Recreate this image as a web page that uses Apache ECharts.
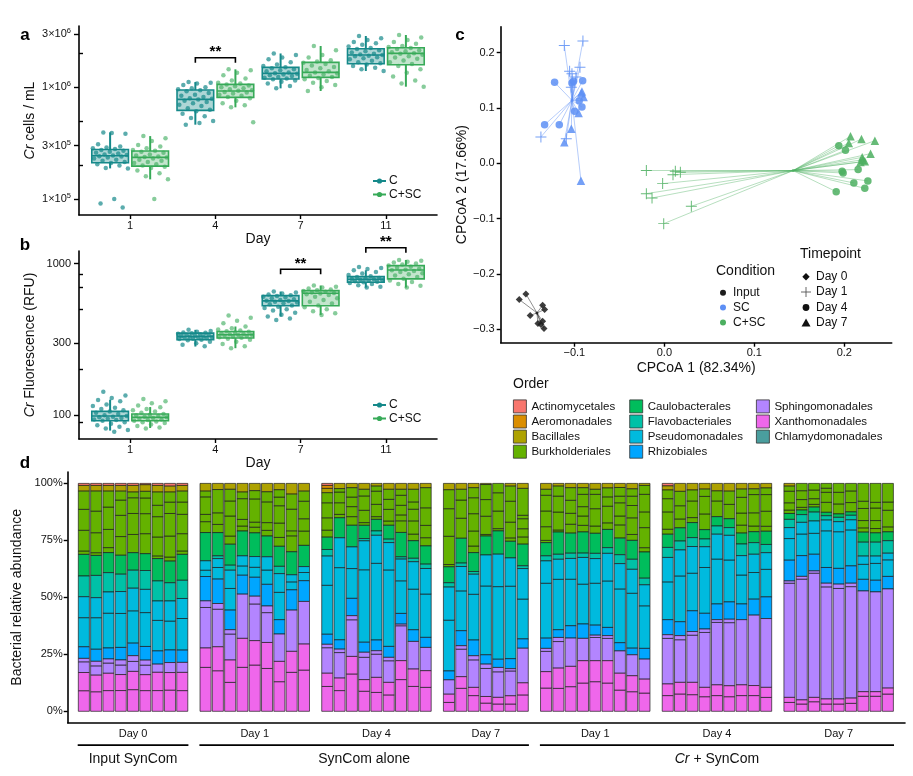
<!DOCTYPE html>
<html><head><meta charset="utf-8"><title>chart</title>
<script src="https://cdn.jsdelivr.net/npm/echarts@6.0.0/dist/echarts.min.js"></script>
<style>html,body{margin:0;padding:0;background:#fff;}#chart{width:913px;height:776px;}</style>
</head><body><div id="chart"></div>
<script>
// ================= DATA =================
const dayLabels = ['1', '4', '7', '11'];

// Panel a: Cr cells / mL, in units of 1e5, per day (1,4,7,11)
const cellsC_e5 = [
  [3.95,3.85,3.9,3.1,2.95,2.9,2.85,2.8,2.75,2.7,2.65,2.6,2.55,2.5,2.48,2.45,2.42,2.4,2.35,2.3,2.25,2.2,2.15,2.1,2.05,2.0,1.9,1.88,1.0,0.91,0.84],
  [11.15,11.0,10.8,10.5,10.0,9.8,9.6,9.4,9.2,8.9,8.6,8.4,8.2,8.0,7.9,7.8,7.6,7.4,7.2,7.0,6.8,6.5,6.3,6.1,5.8,5.5,5.3,5.0,4.8,4.63],
  [20.1,19.5,18.5,17.8,16.8,16.0,15.5,15.1,14.8,14.5,14.2,13.9,13.6,13.4,13.2,13.0,12.8,12.6,12.4,12.2,12.0,11.8,11.5,11.2,10.8,10.3,9.79],
  [28.8,27.5,26.5,25.5,24.8,24.0,23.2,22.5,22.0,21.5,21.0,20.5,20.0,19.7,19.5,19.2,19.0,18.6,18.2,17.8,17.3,16.8,16.4,16.0,15.5,15.0,14.5,14.0]
];
const cellsSC_e5 = [
  [3.66,3.5,3.3,3.05,2.95,2.85,2.75,2.7,2.65,2.6,2.5,2.45,2.4,2.38,2.35,2.3,2.25,2.2,2.15,2.1,2.05,2.0,1.95,1.9,1.8,1.7,1.6,1.5,1.0],
  [14.49,14.2,13.5,12.8,12.0,11.5,11.0,10.8,10.6,10.4,10.2,10.0,9.8,9.6,9.4,9.3,9.1,9.0,8.8,8.6,8.4,8.2,8.0,7.6,7.2,6.9,6.62,4.86],
  [23.43,21.5,19.5,18.5,17.5,17.0,16.6,16.2,15.7,15.2,14.8,14.3,13.9,13.6,13.3,13.0,12.7,12.4,12.1,11.8,11.4,11.0,10.5,10.0,9.27],
  [29.4,28.0,26.5,25.5,24.5,23.5,23.0,22.5,22.0,21.5,21.0,20.6,20.2,20.0,19.6,19.0,18.5,18.0,17.4,16.8,16.2,15.5,14.5,13.5,12.5,11.5,10.8,10.13]
];
// box stats [lower whisker, Q1, median, Q3, upper whisker]
const cellsStatsC = [[1.88e5,2.11e5,2.44e5,2.78e5,3.95e5],[4.63e5,6.22e5,7.8e5,9.46e5,1.115e6],[9.79e5,1.187e6,1.334e6,1.51e6,2.01e6],[1.4e6,1.627e6,1.946e6,2.218e6,2.88e6]];
const cellsStatsSC = [[1.5e5,1.97e5,2.36e5,2.69e5,3.66e5],[6.62e5,8.13e5,9.27e5,1.063e6,1.449e6],[9.27e5,1.228e6,1.362e6,1.673e6,2.343e6],[1.013e6,1.594e6,2.015e6,2.263e6,2.94e6]];
const cellsTicks = [1e5, 3e5, 1e6, 3e6];
const cellsMinorTicks = [2e5, 5e5, 2e6];
const cellsSig = [[2, 1.84e6]]; // [day position, bracket height]

// Panel b: Cr fluorescence (RFU)
const rfuC = [
  [143,135,130,126,124,118,115,112,110,108,106,104,102,100,99,98,97,96,95,94,93,92,90,88,86,84,82,80,78],
  [366,360,355,352,350,348,345,342,340,338,335,333,331,330,328,326,324,322,320,318,315,312,305,298,292,285],
  [654,645,635,625,618,612,605,598,590,582,575,570,566,560,555,548,540,530,520,510,500,490,475,460,448,435,425],
  [950,935,920,904,880,860,840,825,815,805,798,792,788,784,778,772,766,760,754,745,735,720,705,695]
];
const rfuSC = [
  [128,124,120,116,113,110,108,106,104,102,101,100,99,98,97,96,95,94,93,92,91,90,89,87,85,83,82],
  [455,440,420,405,385,375,368,362,358,355,352,348,345,342,340,338,335,333,330,327,324,320,315,305,295,285,277],
  [717,705,695,685,675,668,660,652,645,640,635,628,620,605,590,575,560,545,530,515,500,485,470,459],
  [1057,1045,1030,1015,1000,985,970,955,940,925,912,905,895,880,865,850,835,815,795,775,755,735,715,695]
];
const rfuStatsC = [[79.3,92.2,99,106.2,126.8],[284,315,331,348,366],[448,527,568,615,654],[695,754,789,821,904]];
const rfuStatsSC = [[82.5,92.2,97,102,113.4],[277,323,340,357,385],[459,527,638,664,717],[695,793,908,970,1057]];
const rfuTicks = [100, 300, 1000];
const rfuMinorTicks = [90, 200, 500, 700, 850];
const rfuSig = [[3, 918], [4, 1273]];

// Panel c: CPCoA coordinates
const pcoaInput_d0 = [[-0.1613,-0.2462],[-0.1539,-0.236],[-0.1491,-0.2751],[-0.1353,-0.2565],[-0.1331,-0.2643],[-0.1405,-0.2896],[-0.1353,-0.2854],[-0.1338,-0.2986],[-0.1372,-0.2914]];
const pcoaSC_d1 = [[-0.1112,0.2131],[-0.0905,0.221],[-0.1053,0.1662],[-0.1027,0.162],[-0.0938,0.1734],[-0.0983,0.1559],[-0.1034,0.1373],[-0.1372,0.0476],[-0.109,0.0446]];
const pcoaSC_d4 = [[-0.122,0.1463],[-0.1009,0.1481],[-0.0908,0.1493],[-0.1331,0.0698],[-0.1168,0.0698],[-0.0946,0.1132],[-0.0916,0.1017],[-0.0997,0.0939],[-0.1027,0.1451]];
const pcoaSC_d7 = [[-0.0916,0.13],[-0.0897,0.1198],[-0.0923,0.127],[-0.0953,0.0909],[-0.1034,0.0626],[-0.1112,0.0379],[-0.0927,-0.0313]];
const pcoaCSC_d1 = [[-0.02,-0.0132],[0.0122,-0.0144],[0.0178,-0.0163],[0.0096,-0.0205],[-0.0019,-0.0367],[-0.02,-0.0548],[-0.0137,-0.0626],[0.03,-0.0777],[-0.0007,-0.109]];
const pcoaCSC_d4 = [[0.1939,0.0319],[0.2013,0.0235],[0.1987,-0.0175],[0.1976,-0.0144],[0.2154,-0.0114],[0.2106,-0.0355],[0.2262,-0.0319],[0.2228,-0.0452],[0.191,-0.0512]];
const pcoaCSC_d7 = [[0.2069,0.0488],[0.2191,0.0439],[0.234,0.0409],[0.205,0.0367],[0.2292,0.0175],[0.2199,0.0108],[0.2228,0.0036],[0.218,0.0024],[0.2206,0.0066]];
const centroidInput = [-0.1416, -0.2703];
const centroidSC = [-0.1027, 0.1138];
const centroidCSC = [0.1431, -0.0132];
const pcoaXTicks = [-0.1, 0, 0.1, 0.2];
const pcoaYTicks = [-0.3, -0.2, -0.1, 0, 0.1, 0.2];

// Panel d: relative abundance, each bar = list of [order, % segment] from bottom to top
const orderNames = ['Actinomycetales','Aeromonadales','Bacillales','Burkholderiales','Caulobacterales','Flavobacteriales','Pseudomonadales','Rhizobiales','Sphingomonadales','Xanthomonadales','Chlamydomonadales'];
const Ac=0, Ae=1, Ba=2, B=3, Ca=4, F=5, P=6, R=7, S=8, X=9;
const input_d0 = [
  [[X,9.05],[X,8],[S,4.7],[S,1.5],[R,5.1],[P,12.8],[P,9.2],[F,9.1],[Ca,9.5],[B,1.5],[B,9.1],[B,9.2],[B,8],[Ba,2.5],[Ac,0.9]],
  [[X,8.6],[X,7.3],[S,4.1],[S,2],[R,5.3],[P,13.9],[P,8.8],[F,9.8],[Ca,8.8],[B,1.2],[B,8.8],[B,9.5],[B,8.8],[Ba,2.5],[Ac,0.9]],
  [[X,9.1],[X,7.6],[S,4.5],[S,1.8],[R,4.8],[P,15.3],[P,9.3],[F,8.5],[Ca,8.8],[B,2.2],[B,8],[B,9.8],[B,7],[Ba,2.5],[Ac,0.9]],
  [[X,9.1],[X,7],[S,4.2],[S,2.2],[R,5.5],[P,14.9],[P,9.6],[F,7.6],[Ca,8.3],[B,8.2],[B,9.3],[B,6.7],[B,3.9],[Ba,2.5],[Ac,0.9]],
  [[X,9.5],[X,8],[S,4.4],[S,2.5],[R,5.5],[P,14.2],[P,9.9],[F,7.9],[Ca,7.7],[B,8],[B,9.2],[B,6.9],[B,2.5],[Ba,2.9],[Ac,0.9]],
  [[X,9.1],[X,7],[S,4.2],[S,2.2],[R,6],[P,14.9],[P,10.2],[F,8.3],[Ca,7.4],[B,8.8],[B,8.8],[B,6.9],[B,2.9],[Ba,2.9],[Ac,0.6]],
  [[X,9.1],[X,8],[S,3.6],[R,5.8],[P,13.4],[P,8.5],[F,8.8],[Ca,9.8],[B,1.2],[B,8.3],[B,8.9],[B,5],[B,5.8],[Ba,2.9],[Ac,0.9]],
  [[X,9.3],[X,7.7],[S,4.4],[R,5.5],[P,12.7],[P,8.8],[F,8],[Ca,9.5],[B,1.8],[B,9.2],[B,9.9],[B,5],[B,4.4],[Ba,2.6],[Ac,1.2]],
  [[X,9.1],[X,8],[S,4.4],[R,5.4],[P,13.9],[P,8.8],[F,8],[Ca,11.4],[B,1.5],[B,7.6],[B,8.5],[B,5.4],[B,4.8],[Ba,2.5],[Ac,0.9]]
];
const alone_d1 = [
  [[X,19.3],[X,8.5],[S,17.8],[S,2.9],[R,10.7],[P,2.8],[P,4.1],[Ca,12.4],[B,4.8],[B,3.2],[B,7.7],[B,2.5],[Ba,3.4]],
  [[X,17.8],[X,10.5],[S,16.5],[S,2.5],[R,10.7],[P,5.1],[P,3.9],[F,1.2],[Ca,10.2],[B,3.6],[B,5.1],[B,10.2],[Ba,2.7]],
  [[X,12.7],[X,9.8],[S,11.4],[S,1.9],[R,8.6],[P,9.5],[P,8],[F,2.2],[Ca,9.2],[B,3.6],[B,8.8],[B,6.6],[B,5.1],[Ba,2.6]],
  [[X,19.3],[X,12.7],[S,19.4],[R,8.3],[P,4.1],[P,4.4],[Ca,10.9],[B,2.2],[B,2.9],[B,9.1],[B,2.9],[Ba,3.8]],
  [[X,20.3],[X,10.7],[S,16.1],[S,3.4],[R,8.3],[P,4.4],[P,4.7],[Ca,10.4],[B,2.5],[B,2.2],[B,10.2],[B,3.6],[Ba,3.2]],
  [[X,18.8],[X,11.4],[S,13.1],[S,2.9],[R,9.5],[P,6.3],[P,5.8],[Ca,9.1],[B,2.5],[B,3.4],[B,9.1],[B,4.4],[Ba,3.7]],
  [[X,13],[X,8.9],[S,12],[R,6.3],[P,12],[P,8.2],[F,3.2],[Ca,8.8],[B,3.9],[B,6.3],[B,7.6],[B,3.8],[B,3.2],[Ba,2.8]],
  [[X,17.1],[X,9.2],[S,18.1],[R,8.9],[P,3.5],[P,3.1],[Ca,10.1],[B,7],[B,2.2],[B,9.5],[B,6.6],[Ba,4.7]],
  [[X,18.1],[X,11.4],[S,18.7],[R,9.1],[P,3.6],[P,2.6],[Ca,9.3],[B,6.3],[B,5.4],[B,7.7],[B,4.4],[Ba,3.4]]
];
const alone_d4 = [
  [[X,10.9],[X,5.8],[S,11.2],[S,1.5],[R,4.4],[P,21.5],[P,12.8],[F,2.9],[Ca,5.4],[B,3.1],[B,5.4],[B,6.6],[B,4.4],[Ba,1.9],[Ae,1.3],[Ac,0.9]],
  [[X,9.1],[X,5.5],[S,11.2],[S,1.5],[R,4.1],[P,31.7],[P,13.1],[Ca,8.8],[B,1.5],[B,5.1],[B,4.7],[B,1.5],[Ba,2.3]],
  [[X,16.4],[X,7.7],[S,16.1],[S,1.8],[R,7.6],[P,13.1],[P,9.5],[Ca,9.5],[B,3.8],[B,4.4],[B,4.2],[B,4.1],[Ba,1.9]],
  [[X,8.8],[X,5.1],[S,9.8],[S,2.2],[R,4.4],[P,31.8],[P,12.7],[F,1],[Ca,5.8],[B,1.2],[B,5.4],[B,6.3],[B,2.9],[Ba,2.6]],
  [[X,8.3],[X,6.6],[S,10.2],[S,1.5],[R,4.7],[P,33.7],[P,12.3],[F,1.9],[Ca,5.1],[B,1.2],[B,5.4],[B,5.8],[B,2.2],[Ba,1.2]],
  [[X,7.2],[X,5.5],[S,9.5],[S,1.5],[R,4.8],[P,33.6],[P,12],[F,1.5],[Ca,6.1],[B,1.9],[B,5.1],[B,4.4],[B,4.4],[Ba,2.6]],
  [[X,13.9],[X,8.3],[S,15.3],[S,0.7],[R,4.7],[P,14.3],[P,9.5],[F,1],[Ca,10.7],[B,5.1],[B,2.6],[B,4.2],[B,4.4],[B,2.6],[Ba,2.6]],
  [[X,10.9],[X,7.6],[S,12.1],[R,5.1],[P,17.8],[P,12],[F,1.5],[Ca,7.7],[B,2.9],[B,5.8],[B,5.1],[B,3.2],[B,5.5],[Ba,2.6]],
  [[X,10.5],[X,7.3],[S,10.2],[R,4.4],[P,19],[P,11.2],[F,1.9],[Ca,8],[B,3.6],[B,5.4],[B,7.7],[B,8.8],[Ba,1.9]]
];
const alone_d7 = [
  [[X,3.9],[X,3.6],[S,6.3],[R,3.9],[P,22.3],[P,14.5],[F,1.9],[Ca,7],[B,1],[B,12.4],[B,12.1],[B,8.3],[Ba,2.8]],
  [[X,10.1],[X,5.1],[S,12.1],[S,1.5],[R,6.6],[P,17.5],[P,10.7],[F,1.5],[Ca,10.9],[B,8.8],[B,8],[B,4.7],[Ba,2.6]],
  [[X,6.9],[X,3.6],[S,12.1],[S,1.8],[R,6.9],[P,20.1],[P,8.8],[F,1.2],[Ca,8.3],[B,2.9],[B,6.6],[B,7.6],[B,7],[B,4.4],[Ba,1.9]],
  [[X,3.6],[X,2.9],[S,12.3],[S,1.9],[R,4.1],[P,30.2],[P,13.6],[Ca,8.3],[B,0.7],[B,8],[B,7.3],[B,6.6],[Ba,0.5]],
  [[X,3.2],[X,2.9],[S,11.2],[S,1.9],[R,3.6],[P,31.8],[P,14.2],[Ca,10.2],[B,1],[B,7.7],[B,8],[B,4.1]],
  [[X,3.2],[X,3.6],[S,10.9],[S,1],[R,4.4],[P,31.8],[P,12.4],[Ca,7.3],[B,1.5],[B,6.9],[B,9.2],[B,6.6],[Ba,1.2]],
  [[X,7.2],[X,5.3],[S,15.2],[R,4.1],[P,17.5],[P,13.4],[F,1.2],[Ca,9.5],[B,3.2],[B,3.6],[B,4.4],[B,1.5],[B,11.8],[Ba,2.2]]
];
const cr_d1 = [
  [[X,10.2],[X,7.2],[S,8.9],[S,1.3],[R,4.5],[P,24.1],[P,9.8],[F,2.2],[Ca,5.8],[B,1],[B,6],[B,6.9],[B,6.9],[B,2.6],[Ba,2.6]],
  [[X,10.1],[X,8.9],[S,11.7],[S,1.8],[R,3.4],[P,22.2],[P,8.8],[F,2.2],[Ca,9.8],[B,0.9],[B,7.9],[B,7],[B,4.4],[Ba,1.2]],
  [[X,10.8],[X,8.9],[S,12.4],[R,5.4],[P,20.4],[P,9.1],[F,2.3],[Ca,8.8],[B,3.9],[B,4.8],[B,5.7],[B,5.5],[Ba,1.9]],
  [[X,12.4],[X,9.8],[S,9.8],[R,6.3],[P,17.5],[P,11.7],[F,1.9],[Ca,9.3],[B,2.9],[B,4.1],[B,4.1],[B,5.4],[B,2.9],[Ba,1.9]],
  [[X,13],[X,9.2],[S,10.2],[S,1],[R,4.4],[P,18.4],[P,10.8],[F,2.3],[Ca,8.8],[B,3.2],[B,7.6],[B,6.3],[B,2.2],[Ba,2.6]],
  [[X,12.4],[X,9.8],[S,9.8],[S,1.2],[R,3.6],[P,20.4],[P,12.1],[F,2.5],[Ca,8],[B,2.9],[B,7.3],[B,4.1],[B,3.9],[Ba,2]],
  [[X,9.3],[X,7.4],[S,9.8],[R,3.6],[P,23.6],[P,11.1],[F,3.9],[Ca,7.3],[B,5.8],[B,3.9],[B,5.8],[B,2.9],[B,3.8],[Ba,1.8]],
  [[X,8.6],[X,7],[S,9.2],[R,2.9],[P,24.1],[P,10.5],[F,4.4],[Ca,8.3],[B,2.6],[B,7.3],[B,5.4],[B,4.1],[B,3.2],[Ba,2.4]],
  [[X,8],[X,6.1],[S,8.8],[R,4.7],[P,18.7],[P,9.2],[F,2.9],[Ca,11.5],[B,1.9],[B,8.8],[B,6.9],[B,7.7],[B,3.9],[Ba,0.9]]
];
const cr_d4 = [
  [[X,6.9],[X,5.1],[S,20],[S,1.6],[R,6.6],[P,16.6],[P,10.7],[F,4.4],[Ca,5.8],[B,2.2],[B,7.6],[B,5.8],[B,3.8],[Ba,1.8],[Ac,1.1]],
  [[X,7.6],[X,5.1],[S,18.7],[S,1.8],[R,6.1],[P,20.1],[P,11.4],[F,3.9],[Ca,5.8],[B,3.9],[B,5.8],[B,6.3],[Ba,3.5]],
  [[X,7.3],[X,5.4],[S,20.7],[S,1.6],[R,9.1],[P,16.5],[P,11.7],[F,3.9],[Ca,6.6],[B,2.2],[B,7.3],[B,4.8],[Ba,2.9]],
  [[X,6.4],[X,4.1],[S,24.1],[S,1.5],[R,6.9],[P,20.1],[P,9.1],[F,3.4],[Ca,4.1],[B,6.9],[B,7.7],[B,3.2],[Ba,2.5]],
  [[X,6.9],[X,4.7],[S,27.4],[S,1.2],[R,6.9],[P,19.7],[P,10.9],[F,3.6],[Ca,4.1],[B,6.9],[B,4.4],[Ba,3.3]],
  [[X,6.4],[X,4.8],[S,27.7],[S,1.5],[R,7.6],[P,18.4],[P,10.8],[F,3.4],[Ca,3.9],[B,6.3],[B,5.8],[Ba,3.4]],
  [[X,6.9],[X,4.7],[S,28.6],[R,6.9],[P,12.7],[P,8.5],[F,5.1],[Ca,4.8],[B,3.5],[B,5.3],[B,6.9],[B,3.6],[Ba,2.5]],
  [[X,6.9],[X,4.4],[S,30.9],[R,7],[P,11.7],[P,8],[F,5.1],[Ca,4.8],[B,2.5],[B,5.8],[B,8],[B,2.5],[Ba,2.4]],
  [[X,6.1],[X,4.4],[S,30.2],[R,9.5],[P,12.1],[P,7.3],[F,3.6],[Ca,5.8],[B,2.2],[B,6.6],[B,7.3],[B,2.9],[Ba,2]]
];
const cr_d7 = [
  [[X,3.9],[X,2.2],[S,50.1],[S,1],[R,9.1],[P,9.5],[P,4.8],[F,3.6],[Ca,2.6],[B,1.5],[B,3.2],[B,5.1],[B,2.2],[Ba,1.2]],
  [[X,3.2],[X,1.8],[S,53],[S,1.2],[R,9.1],[P,9.5],[P,5.1],[F,3.4],[Ca,2],[B,1.2],[B,3.4],[B,3.9],[B,3.2]],
  [[X,4.2],[X,1.9],[S,54.5],[S,1],[R,7.3],[P,9.2],[P,5.4],[F,3.9],[Ca,2.2],[B,1.2],[B,2.5],[B,3.8],[B,2.9]],
  [[X,3.2],[X,2.2],[S,49.2],[S,1.6],[R,6.9],[P,16.1],[P,4.7],[F,1.9],[Ca,1.5],[B,4.4],[B,4.4],[B,1.8],[B,2.1]],
  [[X,3.2],[X,2.2],[S,48.5],[S,1.9],[R,6.9],[P,16.1],[P,4.4],[F,1.9],[Ca,1.5],[B,4.4],[B,5.1],[B,3.9]],
  [[X,3.5],[X,2.3],[S,48.9],[S,1.5],[R,7.6],[P,15.8],[P,4.4],[F,2],[Ca,1.5],[B,4.1],[B,5.1],[B,3.3]],
  [[X,6.6],[X,2],[S,44.2],[R,5.1],[P,6.6],[P,3.6],[F,6.1],[Ca,4.4],[B,1.9],[B,3.2],[B,5.3],[B,3.2],[B,7.8]],
  [[X,6.6],[X,2],[S,43.8],[R,5.1],[P,7.4],[P,3.2],[F,6.1],[Ca,4.1],[B,1.9],[B,3.5],[B,5.5],[B,2.5],[B,8.3]],
  [[X,7.6],[X,2.6],[S,43.6],[R,5.5],[P,7.3],[P,2.9],[F,5.5],[Ca,3.9],[B,2.2],[B,7.3],[B,3.6],[B,8.2]]
];
const stripLabels = ['Day 0','Day 1','Day 4','Day 7','Day 1','Day 4','Day 7'];
const conditionLabels = ['Input SynCom', 'SynCom alone', '{i|Cr} + SynCom'];
const conditionGroups = [[0, 0], [1, 3], [4, 6]];
const pctTicks = [0, 25, 50, 75, 100];

// ================= STYLE / LAYOUT =================
const FONT = "'Liberation Sans', Arial, Helvetica, sans-serif";
const colC = '#15898a', colSC = '#37aa58';
const fillC = 'rgba(21,137,138,0.35)', fillSC = 'rgba(55,170,88,0.30)';
const colInput = '#1c1c1c', colPSC = '#5d8ff5', colPCSC = '#4caf60';
const orderColors = ['#F8766D','#DB8E00','#AEA200','#64B200','#00BD5C','#00C1A7','#00BADE','#00A6FF','#B385FF','#EF67EB','#4A9E9E'];
const lg = Math.log10;
const jit = (i) => (((i * 0.6180339887 + 0.31) % 1) - 0.5) * 0.42;
const OFF = 0.235, HW = 0.215;

function boxRender(color, fill) {
  return function (params, api) {
    const x = api.value(0);
    const pLo = api.coord([x, api.value(1)]), pQ1 = api.coord([x, api.value(2)]);
    const pMed = api.coord([x, api.value(3)]), pQ3 = api.coord([x, api.value(4)]), pHi = api.coord([x, api.value(5)]);
    const xl = api.coord([x - HW, api.value(3)])[0], xr = api.coord([x + HW, api.value(3)])[0];
    return { type: 'group', children: [
      { type: 'line', shape: { x1: pLo[0], y1: pLo[1], x2: pQ1[0], y2: pQ1[1] }, style: { stroke: color, lineWidth: 2 } },
      { type: 'line', shape: { x1: pQ3[0], y1: pQ3[1], x2: pHi[0], y2: pHi[1] }, style: { stroke: color, lineWidth: 2 } },
      { type: 'rect', shape: { x: xl, y: pQ3[1], width: xr - xl, height: pQ1[1] - pQ3[1] }, style: { fill: fill, stroke: color, lineWidth: 1.6 } },
      { type: 'line', shape: { x1: xl, y1: pMed[1], x2: xr, y2: pMed[1] }, style: { stroke: color, lineWidth: 1.6 } }
    ] };
  };
}
function sigRender(params, api) {
  const x = api.value(0), y = api.value(1);
  const a = api.coord([x - OFF, y]), b = api.coord([x + OFF, y]);
  return { type: 'group', children: [
    { type: 'polyline', shape: { points: [[a[0], a[1] + 5], [a[0], a[1]], [b[0], b[1]], [b[0], b[1] + 5]] }, style: { stroke: '#000', lineWidth: 1.6, fill: null } },
    { type: 'text', x: (a[0] + b[0]) / 2, y: a[1] + 2, style: { text: '**', align: 'center', verticalAlign: 'bottom', fontSize: 15, fontWeight: 'bold', fontFamily: FONT, fill: '#000' } }
  ] };
}
function pointsFor(arr, scale, off) {
  const out = [];
  arr.forEach((vals, d) => vals.forEach((v, i) => out.push([d + 1 + off + jit(i), lg(v * scale)])));
  return out;
}
function statsFor(stats, off) { return stats.map((s, d) => [d + 1 + off, lg(s[0]), lg(s[1]), lg(s[2]), lg(s[3]), lg(s[4])]); }
function sciLabel(v) {
  const t = Math.pow(10, v); const e = Math.floor(lg(t) + 1e-6); const m = Math.round(t / Math.pow(10, e));
  return '{b|' + m + '×10}{sup|' + e + '}';
}
const axisBlack = { show: true, onZero: false, lineStyle: { color: '#000', width: 1.6 } };
const tickBlack = (vals, len, inside) => ({ show: true, inside: !!inside, customValues: vals, length: len, lineStyle: { color: '#000', width: 1.4 } });
const lblStyle = { color: '#111', fontSize: 11, fontFamily: FONT };

// ---- Panel d geometry (x in bar-slot units)
const groups = [input_d0, alone_d1, alone_d4, alone_d7, cr_d1, cr_d4, cr_d7];
const PADL = 0.813, GAP = 0.894, XMAX_D = 68.07;
const barData = orderNames.map(() => []);
const groupSpans = [];
let pos = PADL;
groups.forEach((g, gi) => {
  const start = pos;
  g.forEach(bar => {
    const total = bar.reduce((s, p) => s + p[1], 0);
    let acc = 0; const xc = pos + 0.5;
    bar.forEach(([o, v]) => { const y0 = acc; acc += v * 100 / total; barData[o].push([xc, y0, acc]); });
    pos += 1;
  });
  groupSpans.push([start, pos, gi]);
  pos += GAP;
});
const condSpans = conditionGroups.map(([a, b], ci) => [groupSpans[a][0], groupSpans[b][1], ci]);

function barRender(color) {
  return function (params, api) {
    const x = api.value(0);
    const pA = api.coord([x - 0.45, api.value(2)]), pB = api.coord([x + 0.45, api.value(1)]);
    return { type: 'rect', shape: { x: pA[0], y: pA[1], width: pB[0] - pA[0], height: pB[1] - pA[1] },
      style: { fill: color, stroke: 'rgba(25,25,25,0.85)', lineWidth: 0.8 } };
  };
}

// ================= OPTION =================
const series = [];
// panel a
series.push({ type: 'scatter', xAxisIndex: 0, yAxisIndex: 0, data: pointsFor(cellsC_e5, 1e5, -OFF), symbolSize: 4.5, itemStyle: { color: colC, opacity: 0.7 }, silent: true, z: 2 });
series.push({ type: 'scatter', xAxisIndex: 0, yAxisIndex: 0, data: pointsFor(cellsSC_e5, 1e5, OFF), symbolSize: 4.5, itemStyle: { color: colSC, opacity: 0.6 }, silent: true, z: 2 });
series.push({ type: 'custom', xAxisIndex: 0, yAxisIndex: 0, data: statsFor(cellsStatsC, -OFF), encode: { x: 0, y: [1, 2, 3, 4, 5] }, renderItem: boxRender(colC, fillC), silent: true, z: 3 });
series.push({ type: 'custom', xAxisIndex: 0, yAxisIndex: 0, data: statsFor(cellsStatsSC, OFF), encode: { x: 0, y: [1, 2, 3, 4, 5] }, renderItem: boxRender(colSC, fillSC), silent: true, z: 3 });
series.push({ type: 'custom', xAxisIndex: 0, yAxisIndex: 0, data: cellsSig.map(s => [s[0], lg(s[1])]), encode: { x: 0, y: 1 }, renderItem: sigRender, clip: false, silent: true, z: 4 });
// panel b
series.push({ type: 'scatter', xAxisIndex: 1, yAxisIndex: 1, data: pointsFor(rfuC, 1, -OFF), symbolSize: 4.5, itemStyle: { color: colC, opacity: 0.7 }, silent: true, z: 2 });
series.push({ type: 'scatter', xAxisIndex: 1, yAxisIndex: 1, data: pointsFor(rfuSC, 1, OFF), symbolSize: 4.5, itemStyle: { color: colSC, opacity: 0.6 }, silent: true, z: 2 });
series.push({ type: 'custom', xAxisIndex: 1, yAxisIndex: 1, data: statsFor(rfuStatsC, -OFF), encode: { x: 0, y: [1, 2, 3, 4, 5] }, renderItem: boxRender(colC, fillC), silent: true, z: 3 });
series.push({ type: 'custom', xAxisIndex: 1, yAxisIndex: 1, data: statsFor(rfuStatsSC, OFF), encode: { x: 0, y: [1, 2, 3, 4, 5] }, renderItem: boxRender(colSC, fillSC), silent: true, z: 3 });
series.push({ type: 'custom', xAxisIndex: 1, yAxisIndex: 1, data: rfuSig.map(s => [s[0], lg(s[1])]), encode: { x: 0, y: 1 }, renderItem: sigRender, clip: false, silent: true, z: 4 });
// panel c
const plusPath = 'path://M-5,-0.45L5,-0.45L5,0.45L-5,0.45Z M-0.45,-5L0.45,-5L0.45,5L-0.45,5Z';
const pcoaSets = [
  { pts: [pcoaInput_d0], cen: centroidInput, color: colInput, lineOp: 0.55 },
  { pts: [pcoaSC_d1, pcoaSC_d4, pcoaSC_d7], cen: centroidSC, color: colPSC, lineOp: 0.5 },
  { pts: [pcoaCSC_d1, pcoaCSC_d4, pcoaCSC_d7], cen: centroidCSC, color: colPCSC, lineOp: 0.45 }
];
pcoaSets.forEach(set => {
  const all = [].concat(...set.pts);
  series.push({ type: 'lines', coordinateSystem: 'cartesian2d', xAxisIndex: 2, yAxisIndex: 2, polyline: false, silent: true,
    data: all.map(p => ({ coords: [set.cen, p] })), lineStyle: { color: set.color, width: 0.9, opacity: set.lineOp }, z: 2 });
  series.push({ type: 'scatter', xAxisIndex: 2, yAxisIndex: 2, data: [set.cen], symbolSize: 3, itemStyle: { color: set.color }, silent: true, z: 3 });
});
const symDefs = { d0: ['diamond', 7], d1: [plusPath, 11], d4: ['circle', 7.5], d7: ['triangle', 8.5] };
[[pcoaInput_d0, colInput, 'd0'], [pcoaSC_d1, colPSC, 'd1'], [pcoaSC_d4, colPSC, 'd4'], [pcoaSC_d7, colPSC, 'd7'],
 [pcoaCSC_d1, colPCSC, 'd1'], [pcoaCSC_d4, colPCSC, 'd4'], [pcoaCSC_d7, colPCSC, 'd7']].forEach(([pts, col, k]) => {
  series.push({ type: 'scatter', xAxisIndex: 2, yAxisIndex: 2, data: pts, symbol: symDefs[k][0], symbolSize: symDefs[k][1],
    itemStyle: { color: col, opacity: 0.85 }, silent: true, z: 4 });
});
// panel d
orderNames.forEach((name, k) => {
  series.push({ type: 'custom', name: name, xAxisIndex: 3, yAxisIndex: 3, data: barData[k], encode: { x: 0, y: [1, 2] },
    itemStyle: { color: orderColors[k], borderColor: '#333', borderWidth: 0.8 }, renderItem: barRender(orderColors[k]), silent: true, z: 2 });
});
series.push({ type: 'custom', xAxisIndex: 3, yAxisIndex: 3, data: groupSpans, encode: { x: [0, 1] }, clip: false, silent: true,
  renderItem: (params, api) => {
    const a = api.coord([api.value(0), -5]), b = api.coord([api.value(1), -5]);
    return { type: 'text', x: (a[0] + b[0]) / 2, y: a[1] + 11, style: { text: stripLabels[api.value(2)], align: 'center', verticalAlign: 'middle', fontSize: 11, fontFamily: FONT, fill: '#111' } };
  } });
series.push({ type: 'custom', xAxisIndex: 3, yAxisIndex: 3, data: condSpans, encode: { x: [0, 1] }, clip: false, silent: true,
  renderItem: (params, api) => {
    const a = api.coord([api.value(0), -5]), b = api.coord([api.value(1), -5]);
    return { type: 'group', children: [
      { type: 'line', shape: { x1: a[0], y1: a[1] + 22.5, x2: b[0], y2: b[1] + 22.5 }, style: { stroke: '#000', lineWidth: 1.8 } },
      { type: 'text', x: (a[0] + b[0]) / 2, y: a[1] + 36, style: { text: conditionLabels[api.value(2)], align: 'center', verticalAlign: 'middle', fontSize: 14, fontFamily: FONT, fill: '#111',
        rich: { i: { fontStyle: 'italic', fontSize: 14, fontFamily: FONT, fill: '#111' } } } }
    ] };
  } });

const nameStyle = { color: '#111', fontSize: 14, fontFamily: FONT, rich: { i: { fontStyle: 'italic', fontSize: 14, fontFamily: FONT, color: '#111' } } };
const dayAxis = (gi) => ({ type: 'value', gridIndex: gi, min: 0.4, max: 4.6, axisLine: axisBlack, axisTick: tickBlack([1, 2, 3, 4], 4),
  axisLabel: { customValues: [1, 2, 3, 4], formatter: v => dayLabels[Math.round(v) - 1], margin: 5, ...lblStyle }, splitLine: { show: false },
  name: 'Day', nameLocation: 'middle', nameGap: 13, nameTextStyle: { color: '#111', fontSize: 14, fontFamily: FONT } });
const minorAxis = (gi, min, max, vals) => ({ type: 'value', gridIndex: gi, position: 'left', offset: 0, min: min, max: max,
  axisLine: { show: false, onZero: false }, axisLabel: { show: false }, splitLine: { show: false }, axisTick: tickBlack(vals, 4, true) });

const option = {
  animation: false,
  backgroundColor: '#fff',
  textStyle: { fontFamily: FONT },
  grid: [
    { left: 79, top: 26, width: 358, height: 189 },
    { left: 79, top: 251, width: 358, height: 188 },
    { left: 500.7, top: 26.7, width: 391, height: 316 },
    { left: 67.7, top: 472, width: 837.3, height: 250.7 }
  ],
  xAxis: [
    dayAxis(0), dayAxis(1),
    { type: 'value', gridIndex: 2, min: -0.1819, max: 0.2527, axisLine: axisBlack, axisTick: tickBlack(pcoaXTicks, 4),
      axisLabel: { customValues: pcoaXTicks, formatter: v => (v < -1e-9 ? '\u2212' : '') + Math.abs(v).toFixed(1), margin: 5, ...lblStyle }, splitLine: { show: false },
      name: 'CPCoA 1 (82.34%)', nameLocation: 'middle', nameGap: 18, nameTextStyle: { color: '#111', fontSize: 14, fontFamily: FONT } },
    { type: 'value', gridIndex: 3, min: 0, max: XMAX_D, axisLine: axisBlack, axisTick: { show: false }, axisLabel: { show: false }, splitLine: { show: false } }
  ],
  yAxis: [
    { type: 'value', gridIndex: 0, position: 'left', min: 4.857, max: 6.549, axisLine: axisBlack, axisTick: tickBlack(cellsTicks.map(lg), 5),
      axisLabel: { customValues: cellsTicks.map(lg), formatter: sciLabel, margin: 8, ...lblStyle,
        rich: { b: { fontSize: 11, fontFamily: FONT, color: '#111', lineHeight: 14 }, sup: { fontSize: 7.5, fontFamily: FONT, color: '#111', lineHeight: 8, verticalAlign: 'top' } } },
      splitLine: { show: false }, name: '{i|Cr} cells / mL', nameLocation: 'middle', nameGap: 42, nameTextStyle: nameStyle },
    { type: 'value', gridIndex: 1, position: 'left', min: 1.844, max: 3.083, axisLine: axisBlack, axisTick: tickBlack(rfuTicks.map(lg), 5),
      axisLabel: { customValues: rfuTicks.map(lg), formatter: v => String(Math.round(Math.pow(10, v))), margin: 8, ...lblStyle },
      splitLine: { show: false }, name: '{i|Cr} Fluorescence (RFU)', nameLocation: 'middle', nameGap: 42, nameTextStyle: nameStyle },
    { type: 'value', gridIndex: 2, position: 'left', min: -0.3242, max: 0.2469, axisLine: axisBlack, axisTick: tickBlack(pcoaYTicks, 4),
      axisLabel: { customValues: pcoaYTicks, formatter: v => (v < -1e-9 ? '\u2212' : '') + Math.abs(v).toFixed(1), margin: 6, ...lblStyle }, splitLine: { show: false },
      name: 'CPCoA 2 (17.66%)', nameLocation: 'middle', nameGap: 32, nameTextStyle: { color: '#111', fontSize: 14, fontFamily: FONT } },
    { type: 'value', gridIndex: 3, position: 'left', min: -5, max: 105, axisLine: axisBlack, axisTick: tickBlack(pctTicks, 4),
      axisLabel: { customValues: pctTicks, formatter: v => Math.round(v) + '%', margin: 5, ...lblStyle }, splitLine: { show: false },
      name: 'Bacterial relative abundance', nameLocation: 'middle', nameGap: 31, nameTextStyle: { color: '#111', fontSize: 14, fontFamily: FONT } },
    minorAxis(0, 4.857, 6.549, cellsMinorTicks.map(lg)),
    minorAxis(1, 1.844, 3.083, rfuMinorTicks.map(lg))
  ],
  legend: [0, 1, 2].map(c => ({
    data: [[0, 1, 2, 3], [4, 5, 6, 7], [8, 9, 10]][c].map(k => orderNames[k]),
    orient: 'vertical', left: [513, 629.3, 756][c], top: 399.5, itemWidth: 13, itemHeight: 13, itemGap: 1.3, icon: 'rect',
    itemStyle: { borderColor: '#333', borderWidth: 0.8 }, selectedMode: false, padding: 0,
    textStyle: { fontSize: 11.5, fontFamily: FONT, color: '#111' }
  })),
  graphic: [
    { type: 'text', x: 25, y: 35, style: { text: 'a', fontSize: 17, fontWeight: 'bold', fontFamily: FONT, fill: '#000', align: 'center', verticalAlign: 'middle' } },
    { type: 'text', x: 25, y: 245, style: { text: 'b', fontSize: 17, fontWeight: 'bold', fontFamily: FONT, fill: '#000', align: 'center', verticalAlign: 'middle' } },
    { type: 'text', x: 460, y: 35, style: { text: 'c', fontSize: 17, fontWeight: 'bold', fontFamily: FONT, fill: '#000', align: 'center', verticalAlign: 'middle' } },
    { type: 'text', x: 25, y: 463, style: { text: 'd', fontSize: 17, fontWeight: 'bold', fontFamily: FONT, fill: '#000', align: 'center', verticalAlign: 'middle' } },
    // legend a
    { type: 'line', shape: { x1: 373, y1: 181, x2: 386, y2: 181 }, style: { stroke: colC, lineWidth: 2 } },
    { type: 'circle', shape: { cx: 379.5, cy: 181, r: 2.6 }, style: { fill: colC } },
    { type: 'text', x: 389, y: 181, style: { text: 'C', fontSize: 12, fontFamily: FONT, fill: '#111', verticalAlign: 'middle' } },
    { type: 'line', shape: { x1: 373, y1: 194.5, x2: 386, y2: 194.5 }, style: { stroke: colSC, lineWidth: 2 } },
    { type: 'circle', shape: { cx: 379.5, cy: 194.5, r: 2.6 }, style: { fill: colSC } },
    { type: 'text', x: 389, y: 194.5, style: { text: 'C+SC', fontSize: 12, fontFamily: FONT, fill: '#111', verticalAlign: 'middle' } },
    // legend b
    { type: 'line', shape: { x1: 373, y1: 405, x2: 386, y2: 405 }, style: { stroke: colC, lineWidth: 2 } },
    { type: 'circle', shape: { cx: 379.5, cy: 405, r: 2.6 }, style: { fill: colC } },
    { type: 'text', x: 389, y: 405, style: { text: 'C', fontSize: 12, fontFamily: FONT, fill: '#111', verticalAlign: 'middle' } },
    { type: 'line', shape: { x1: 373, y1: 418.5, x2: 386, y2: 418.5 }, style: { stroke: colSC, lineWidth: 2 } },
    { type: 'circle', shape: { cx: 379.5, cy: 418.5, r: 2.6 }, style: { fill: colSC } },
    { type: 'text', x: 389, y: 418.5, style: { text: 'C+SC', fontSize: 12, fontFamily: FONT, fill: '#111', verticalAlign: 'middle' } },
    // legend c: Condition
    { type: 'text', x: 716, y: 271, style: { text: 'Condition', fontSize: 14, fontFamily: FONT, fill: '#111', verticalAlign: 'middle' } },
    { type: 'circle', shape: { cx: 723, cy: 292.7, r: 3 }, style: { fill: colInput } },
    { type: 'text', x: 733, y: 292.7, style: { text: 'Input', fontSize: 12, fontFamily: FONT, fill: '#111', verticalAlign: 'middle' } },
    { type: 'circle', shape: { cx: 723, cy: 307.5, r: 3 }, style: { fill: colPSC } },
    { type: 'text', x: 733, y: 307.5, style: { text: 'SC', fontSize: 12, fontFamily: FONT, fill: '#111', verticalAlign: 'middle' } },
    { type: 'circle', shape: { cx: 723, cy: 322.5, r: 3 }, style: { fill: colPCSC } },
    { type: 'text', x: 733, y: 322.5, style: { text: 'C+SC', fontSize: 12, fontFamily: FONT, fill: '#111', verticalAlign: 'middle' } },
    // legend c: Timepoint
    { type: 'text', x: 800, y: 254.5, style: { text: 'Timepoint', fontSize: 14, fontFamily: FONT, fill: '#111', verticalAlign: 'middle' } },
    { type: 'polygon', shape: { points: [[806, 273], [809.7, 276.7], [806, 280.4], [802.3, 276.7]] }, style: { fill: '#111' } },
    { type: 'text', x: 816, y: 276.7, style: { text: 'Day 0', fontSize: 12, fontFamily: FONT, fill: '#111', verticalAlign: 'middle' } },
    { type: 'line', shape: { x1: 801, y1: 292, x2: 811, y2: 292 }, style: { stroke: '#555', lineWidth: 0.9 } },
    { type: 'line', shape: { x1: 806, y1: 287, x2: 806, y2: 297 }, style: { stroke: '#555', lineWidth: 0.9 } },
    { type: 'text', x: 816, y: 292, style: { text: 'Day 1', fontSize: 12, fontFamily: FONT, fill: '#111', verticalAlign: 'middle' } },
    { type: 'circle', shape: { cx: 806, cy: 307.5, r: 3.4 }, style: { fill: '#111' } },
    { type: 'text', x: 816, y: 307.5, style: { text: 'Day 4', fontSize: 12, fontFamily: FONT, fill: '#111', verticalAlign: 'middle' } },
    { type: 'polygon', shape: { points: [[806, 318.5], [810.5, 326.5], [801.5, 326.5]] }, style: { fill: '#111' } },
    { type: 'text', x: 816, y: 323, style: { text: 'Day 7', fontSize: 12, fontFamily: FONT, fill: '#111', verticalAlign: 'middle' } },
    // legend d title
    { type: 'text', x: 513, y: 384, style: { text: 'Order', fontSize: 14, fontFamily: FONT, fill: '#111', verticalAlign: 'middle' } }
  ],
  series: series
};
const chart = echarts.init(document.getElementById('chart'), null, { renderer: 'canvas' });
chart.setOption(option);
</script></body></html>
